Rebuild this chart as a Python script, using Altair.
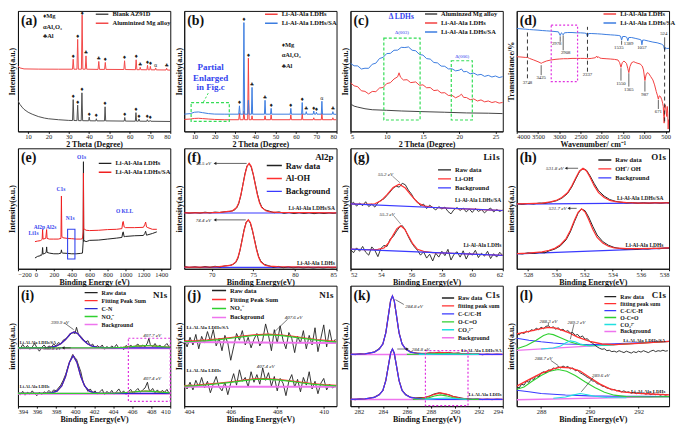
import altair as alt
import pandas as pd

FONT = "Liberation Serif"
W, H = 153, 121
BLK = "#222222"

# ---------------- (a) XRD, blank vs aluminized ----------------
a_blank_x = [5, 5.5, 6, 7, 8, 10, 12, 15, 18, 20, 25, 30, 31.85, 32.2, 32.55, 34.05, 34.4, 34.75,
             36.15, 36.5, 36.85, 39.8, 40.1, 40.4, 43.3, 43.6, 43.9, 47.6, 47.9, 48.2, 57.3, 57.6, 57.9,
             62.8, 63.1, 63.4, 64.3, 64.6, 64.9, 68.4, 68.7, 69.0, 69.8, 70.1, 70.4, 80]
a_blank_y = [32, 29.7, 27.7, 25, 22.7, 19.7, 17.7, 15.3, 13.7, 13, 12, 11.3, 11.2, 32.7, 11.2, 11.1, 27, 11.1,
             11, 39.7, 11, 10.9, 14.7, 10.9, 10.8, 13, 10.8, 10.8, 25.3, 10.8, 10.6, 14.3, 10.6,
             10.5, 19.3, 10.5, 10.5, 12.7, 10.5, 10.4, 12, 10.4, 10.4, 11.3, 10.4, 10.2]
a_alu_x = [5, 6, 8, 15, 25, 31.85, 32.2, 32.55, 34.05, 34.4, 34.75, 36.25, 36.6, 36.95, 38.15, 38.5, 38.85,
           44.45, 44.8, 45.15, 47.65, 48.0, 48.35, 57.15, 57.5, 57.85, 62.85, 63.2, 63.55, 64.9, 65.2, 65.5,
           68.5, 68.8, 69.1, 69.9, 70.2, 70.5, 72.5, 72.8, 73.1, 77.9, 78.2, 78.5, 80]
a_alu_y = [67, 65.3, 64.3, 64.1, 64, 64, 74.3, 64, 64, 94.7, 64, 64, 119.7, 64, 64, 77.7, 64,
           63.8, 72, 63.8, 63.8, 71, 63.8, 63.7, 72.7, 63.7, 63.5, 73.7, 63.5, 63.5, 66, 63.5,
           63.4, 68, 63.4, 63.4, 67, 63.4, 63.3, 65.3, 63.3, 63.2, 65, 63.2, 63]
a_mark_x = [32.2, 34.4, 36.6, 38.5, 44.8, 48.0, 57.5, 63.2, 65.2, 68.8, 70.2, 72.8, 78.2,
            32.2, 34.4, 36.5, 40.1, 43.6, 47.9, 57.6, 63.1, 64.6, 68.7, 70.1]
a_mark_y = [77.8, 98.2, 121.5, 81.2, 75.5, 74.5, 76.2, 77.2, 69.5, 71.5, 70.5, 68.8, 68.5,
            36.2, 30.5, 43.2, 18.2, 16.5, 28.8, 17.8, 22.8, 16.2, 15.5, 14.8]
a_mark_s = ["♦", "♦", "♦", "♣", "♣", "♦", "♦", "♦", "♣", "♦", "♦", "α", "♣",
            "♦", "♦", "♦", "♦", "♦", "♦", "♦", "♦", "♦", "♦", "♦"]

# ---------------- (b) XRD, LDHs vs LDHs/SA ----------------
b_ldh_x = [5, 8, 10, 12, 14, 17, 20, 25, 31.85, 32.2, 32.55, 34.05, 34.4, 34.75, 36.25, 36.6, 36.95,
           38.1, 38.4, 38.7, 44.5, 44.8, 45.1, 47.5, 47.8, 48.1, 57.2, 57.5, 57.8, 62.8, 63.1, 63.4,
           68.5, 68.8, 69.1, 72.5, 72.8, 73.1, 77.9, 78.2, 78.5, 80]
b_ldh_y = [12.3, 12.7, 13.3, 13.5, 13.2, 12.7, 12.3, 12, 12, 18.7, 12, 12, 21, 12, 12, 75.3, 12,
           12, 16, 12, 12, 16, 12, 12, 17, 12, 12, 17, 12, 12, 18, 12,
           12, 14, 12, 12, 18.5, 12, 12, 14, 12, 12]
b_sa_x = [5, 8, 10, 12, 14, 17, 20, 25, 31.85, 32.2, 32.55, 34.05, 34.4, 34.75, 36.25, 36.6, 36.95,
          38.1, 38.4, 38.7, 44.5, 44.8, 45.1, 47.5, 47.8, 48.1, 57.2, 57.5, 57.8, 62.8, 63.1, 63.4,
          64.8, 65.1, 65.4, 68.5, 68.8, 69.1, 69.8, 70.1, 70.4, 72.5, 72.8, 73.1, 77.9, 78.2, 78.5, 80]
b_sa_y = [17.7, 18.3, 19.7, 20, 19.3, 18.3, 17.8, 17.7, 17.7, 26.3, 17.7, 17.7, 112, 17.7, 17.7, 32, 17.7,
          17.7, 45.3, 17.7, 17.7, 32, 17.7, 17.7, 23.7, 17.7, 17.7, 23.7, 17.7, 17.7, 29.7, 17.7,
          17.7, 20.3, 17.7, 17.7, 21, 17.7, 17.7, 19.7, 17.7, 17.7, 31, 17.7, 17.7, 20.3, 17.7, 17.5]
b_mark_x = [32.2, 34.4, 36.6, 38.4, 44.8, 47.8, 57.5, 63.1, 65.1, 68.8, 70.1, 72.8, 78.2]
b_mark_y = [29.8, 115.5, 78.8, 48.8, 35.5, 27.2, 27.2, 33.2, 23.8, 24.5, 23.2, 34.5, 23.8]
b_mark_s = ["♦", "♦", "♦", "♣", "♣", "♦", "♦", "♦", "♣", "♦", "♦", "α", "♣"]

# ---------------- (c) low-angle XRD ----------------
c_alu_x = [5, 5.5, 6, 7, 8, 10, 12, 15, 18, 21, 24, 26]
c_alu_y = [28.3, 26, 25, 23.3, 22.3, 21.7, 21, 20.3, 19.7, 19, 18.7, 18.3]
c_ldh_x = [5, 5.5, 6, 6.5, 7, 7.5, 8, 8.5, 9, 9.5, 10, 10.5, 11, 11.5, 11.7, 11.9, 12.3, 12.8, 13.3, 14,
           14.5, 15, 15.5, 16, 16.5, 17, 17.5, 18, 18.5, 19, 19.5, 20, 20.3, 20.6, 21, 21.5, 22, 22.5, 23, 23.5,
           24, 24.5, 25, 25.5, 26]
c_ldh_y = [50.1, 46.9, 46.0, 41.8, 41.2, 38.6, 41.1, 40.9, 44.6, 45.2, 49.2, 50.1, 53.9, 56.2, 60.3, 55.8, 52.9,
           53.2, 50.2, 50.9, 47.5, 47.9, 44.9, 45.1, 42.0, 42.5, 39.6, 39.8, 37.0, 37.1, 34.6, 36.4, 38.3, 35.0,
           34.8, 32.6, 33.4, 31.3, 32.4, 30.4, 31.3, 29.7, 30.6, 29.1, 29.8]
c_sa_x = [5, 5.5, 6, 6.5, 7, 7.5, 8, 8.5, 9, 9.5, 10, 10.5, 11, 11.5, 12, 12.5, 13, 13.5, 14, 14.5,
          15, 15.5, 16, 16.5, 17, 17.5, 18, 18.5, 19, 19.5, 20, 20.3, 20.6, 21, 21.5, 22, 22.5, 23, 23.5, 24,
          24.5, 25, 25.5, 26]
c_sa_y = [70.1, 67.5, 67.4, 64.2, 65.0, 64.9, 69.1, 70.2, 75.0, 76.2, 80.1, 80.3, 83.5, 83.6, 86.5, 86.3, 86.9,
          83.5, 83.0, 79.2, 78.5, 74.9, 74.4, 70.9, 70.5, 67.2, 67.0, 64.3, 64.4, 62.3, 63.0, 64.3, 61.3, 61.7,
          59.3, 60.0, 58.0, 58.7, 56.6, 57.7, 56.0, 57.0, 55.4, 56.4]

# ---------------- (d) FTIR ----------------
d_sa_x = [4000, 3900, 3800, 3700, 3600, 3500, 3400, 3300, 3200, 3100, 3020, 2978, 2950, 2930, 2908, 2880,
          2800, 2700, 2600, 2500, 2400, 2360, 2337, 2315, 2250, 2100, 2000, 1900, 1800, 1700, 1600, 1560,
          1535, 1510, 1450, 1410, 1389, 1365, 1300, 1200, 1100, 1075, 1057, 1040, 1000, 900, 800, 700, 600,
          550, 524, 500, 470, 440, 420]
d_sa_y = [103.3, 103, 102.7, 102.3, 102, 101.7, 101.3, 101, 100.7, 100.3, 100, 96.3, 99, 98.3, 97, 99,
          99.3, 99.3, 99, 99, 98.7, 98.3, 95, 98.3, 98.3, 98, 97.7, 97.3, 97, 96.7, 96.3, 95.7,
          91.7, 95.3, 95.3, 94.3, 91, 94.3, 94.3, 93.3, 92.3, 91.7, 87, 91.7, 91.7, 90.7, 89.7, 89, 87.7,
          86.3, 81.7, 84.3, 83, 83.7, 82.7]
d_ldh_x = [4000, 3900, 3800, 3748, 3700, 3600, 3500, 3450, 3425, 3400, 3300, 3200, 3100, 3000, 2900, 2800,
           2700, 2600, 2500, 2400, 2337, 2250, 2150, 2120, 2100, 2080, 2050, 2000, 1900, 1800, 1700, 1620,
           1580, 1550, 1520, 1480, 1420, 1390, 1365, 1340, 1300, 1250, 1200, 1150, 1100, 1050, 1020, 987,
           960, 930, 900, 850, 800, 760, 720, 690, 671, 650, 620, 590, 570, 555, 545, 535, 520, 505, 490,
           475, 460, 450, 440, 430, 420]
d_ldh_y = [75, 74.7, 74.3, 74.3, 73.3, 71.7, 70, 69, 68.3, 69, 70.7, 71.7, 72.3, 72.7, 73, 73,
           73.3, 73.3, 73.3, 73.3, 73, 73.3, 74, 75.7, 74, 75, 73.7, 73.3, 73, 72.7, 72.3, 71.7,
           69, 64.3, 69, 70.7, 68.3, 63.3, 59, 65, 69, 70, 69, 68.3, 67.7, 65.7, 61.7, 51,
           56.7, 59, 58.3, 55, 51.7, 46.7, 40, 35.7, 32.3, 35.7, 35, 31.7, 28.3, 25, 15, 8.3, 23.3, 26.7, 21.7,
           15, 25, 18.3, 2.3, 11.7, 6.7]

# ---------------- (e) XPS survey ----------------
e_ldh_x = [-10, 20, 50, 55, 60, 65, 70, 75, 80, 100, 115, 120, 125, 150, 200, 250, 280, 285, 290, 300,
           350, 400, 450, 500, 520, 528, 531, 534, 540, 560, 580, 600, 700, 800, 900, 960, 970, 975, 985, 1000,
           1100, 1200, 1215, 1225, 1235, 1250, 1300, 1350]
e_ldh_y = [11, 12.7, 13.3, 14.3, 13.7, 14, 15, 21.7, 15, 15.7, 16.7, 22.3, 16.7, 16, 15.3, 15.3, 16, 19.3, 16.7, 16,
           15.7, 15.3, 15.3, 15.7, 16, 27.7, 109.3, 27.7, 28.7, 27.7, 28.3, 29, 29.3, 30.3, 31.3, 32, 37, 37.7, 32.7, 33,
           33.7, 34, 36, 38.3, 34.3, 34.7, 36, 37.7]
e_sa_x = [-10, 20, 50, 60, 70, 75, 80, 110, 120, 125, 150, 200, 250, 280, 285, 290, 300, 350, 400, 450,
          500, 520, 528, 531, 534, 545, 560, 600, 700, 800, 900, 960, 970, 975, 985, 1000, 1100, 1200, 1215, 1225,
          1235, 1250, 1300, 1350]
e_sa_y = [27.7, 28.3, 28.7, 29.3, 30, 40.3, 30.3, 31, 40, 31, 30.3, 30.3, 30.3, 31, 74.3, 33.3, 31.7, 31, 30.7, 30.3,
          30.3, 30.7, 37.7, 97.7, 40.3, 40.3, 39.3, 39, 39.3, 40, 40.3, 41, 47.7, 48.3, 42.7, 42, 42, 42.3, 45, 47.7,
          42.7, 42, 40.3, 40.3]

# ---------------- (f) Al2p ----------------
f_fit_up_x = [66.7, 68, 70, 71, 72, 72.5, 73, 73.25, 73.5, 73.75, 74, 74.25, 74.5, 74.75, 75, 75.25, 75.5, 75.75,
              76, 76.5, 77, 78, 80, 82, 85]
f_fit_up_y = [56.7, 56.7, 56.8, 57.2, 58.2, 58.7, 62.2, 66.7, 74.7, 84.7, 95.7, 103.7, 106.7, 103.7, 95.7, 84.7,
              74.7, 66.7, 62.2, 58.7, 57.7, 57.2, 56.9, 56.8, 56.7]
f_raw_up_x = [66.7, 67.3, 68, 68.6, 69.2, 69.8, 70.4, 71, 71.6, 72.2, 72.7, 73, 73.25, 73.5, 73.75, 74, 74.25, 74.5,
              74.75, 75, 75.25, 75.5, 75.75, 76, 76.4, 76.9, 77.5, 78.1, 78.7, 79.3, 79.9, 80.5, 81.1, 81.7, 82.3,
              82.9, 83.5, 84.1, 84.6, 85]
f_raw_up_y = [57.2, 56.3, 57.0, 56.4, 57.3, 56.6, 57.4, 57.0, 57.8, 58.0, 59.3, 61.6, 66.0, 74.0, 85.3, 96.4, 104.2,
              106.3, 103.0, 95.2, 85.5, 75.5, 67.7, 62.9, 59.6, 58.4, 56.8, 57.6, 56.2, 57.1, 55.9, 56.9, 56.0, 56.8,
              55.8, 56.6, 55.9, 56.7, 56.1, 56.6]
f_fit_lo_x = [66.7, 68, 70, 70.9, 71.9, 72.4, 72.9, 73.15, 73.4, 73.65, 73.9, 74.15, 74.4, 74.65, 74.9, 75.15,
              75.4, 75.65, 75.9, 76.4, 76.9, 77.9, 80, 82, 85]
f_fit_lo_y = [1.7, 1.7, 1.8, 2.2, 3.1, 3.6, 7.0, 11.3, 19.0, 28.6, 39.1, 46.8, 49.7, 46.8, 39.1, 28.6, 19.0, 11.3,
              7.0, 3.6, 2.7, 2.2, 1.9, 1.8, 1.7]
f_raw_lo_x = [66.7, 67.3, 68, 68.6, 69.2, 69.8, 70.4, 71, 71.6, 72.2, 72.6, 72.9, 73.15, 73.4, 73.65, 73.9, 74.15,
              74.4, 74.65, 74.9, 75.15, 75.4, 75.65, 75.9, 76.3, 76.8, 77.4, 78, 78.6, 79.2, 79.8, 80.4, 81, 81.6,
              82.2, 82.8, 83.4, 84, 84.5, 85]
f_raw_lo_y = [2.4, 1.2, 2.0, 1.1, 2.3, 1.4, 2.5, 1.8, 2.9, 3.4, 4.6, 6.4, 10.6, 18.4, 29.3, 39.8, 47.3, 49.3, 46.0,
              38.4, 29.5, 19.8, 12.2, 7.8, 4.5, 3.2, 1.6, 2.4, 1.0, 2.0, 0.9, 1.8, 0.8, 1.6, 0.7, 1.5, 0.8, 1.5,
              0.9, 1.4]
f_bg_x = [66.7, 85]
f_bg_up_y = [56.5, 56.5]
f_bg_lo_y = [1.5, 1.5]

# ---------------- (g) Li1s ----------------
g_fit_up_x = [52, 53, 53.6, 54, 54.4, 54.8, 55.2, 55.6, 56, 56.4, 56.8, 57.4, 58, 59, 60, 61, 62]
g_fit_up_y = [66.7, 66.2, 66.9, 69.9, 76.3, 83.6, 87.0, 83.1, 75.2, 68.3, 64.8, 63.3, 62.7, 62.0, 61.4, 60.7, 60.0]
g_raw_x = [52.0, 52.2, 52.4, 52.6, 52.8, 53.0, 53.2, 53.4, 53.6, 53.8, 54.0, 54.2, 54.4, 54.6, 54.8, 55.0, 55.2,
           55.4, 55.6, 55.8, 56.0, 56.2, 56.4, 56.6, 56.8, 57.0, 57.2, 57.4, 57.6, 57.8, 58.0, 58.2, 58.4, 58.6,
           58.8, 59.0, 59.2, 59.4, 59.6, 59.8, 60.0, 60.2, 60.4, 60.6, 60.8, 61.0, 61.2, 61.4, 61.6, 61.8, 62.0]
g_raw_up_y = [66, 68.5, 64.5, 67.5, 65, 69, 64, 66.5, 63.5, 68, 70.5, 72, 75.5, 79, 83, 85, 84, 88, 86.5, 81,
              77, 71.5, 69, 65, 66.5, 62, 65.5, 63, 60.5, 64, 61.5, 63.5, 59, 56.5, 61, 63, 60, 62.5, 58.5, 61.5,
              58, 62, 59, 61, 57.5, 60.5, 62.5, 58.5, 61, 59, 60.5]
g_fit_lo_x = [52, 53, 53.8, 54.2, 54.5, 54.8, 55.05, 55.3, 55.55, 55.8, 56.1, 56.4, 56.8, 57.4, 58, 59, 60, 61, 62]
g_fit_lo_y = [20.3, 19.6, 19.9, 21.4, 26.5, 34.6, 41.4, 44.3, 41.0, 34.0, 25.5, 20.0, 17.9, 16.7, 16.3, 15.7, 15.0,
              14.4, 13.7]
g_raw_lo_y = [20, 16.5, 21.5, 18, 23, 17, 14, 22.5, 19, 12.5, 21, 24, 23, 30.5, 33, 38, 42.5, 44.5, 40, 33,
              27, 22.5, 19, 14, 17.5, 11, 15, 8, 16, 12, 18, 13.5, 20, 9, 15, 17.5, 12, 18.5, 10, 16.5,
              14, 19, 11.5, 16, 13, 18, 10.5, 15.5, 12, 17, 13.5]
g_bg_x = [52, 62]
g_bg_up_y = [66.7, 60.0]
g_bg_lo_y = [20.3, 13.7]

# ---------------- (h) O1s ----------------
h_fit_up_x = [527.2, 528, 529, 529.6, 530, 530.4, 530.8, 531.1, 531.4, 531.65, 531.9, 532.15, 532.4, 532.7, 533,
              533.4, 533.8, 534.2, 535, 536, 537, 538]
h_fit_up_y = [67.3, 67.6, 68.2, 69.5, 70.9, 73.9, 78.9, 85.9, 94.8, 101.5, 104.4, 101.5, 94.9, 86.0, 79.0, 74.0,
              71.0, 69.6, 68.6, 68.2, 68.3, 68.4]
h_raw_up_x = [527.2, 527.6, 528, 528.4, 528.8, 529.2, 529.6, 530, 530.4, 530.8, 531.1, 531.4, 531.65, 531.9, 532.15,
              532.4, 532.7, 533, 533.4, 533.8, 534.2, 534.6, 535, 535.4, 535.8, 536.2, 536.6, 537, 537.4, 537.8, 538]
h_raw_up_y = [67.6, 67.0, 67.8, 67.3, 68.2, 68.0, 69.2, 70.5, 73.2, 78.0, 84.8, 93.6, 100.7, 104.0, 102.2, 96.4,
              88.2, 81.0, 75.4, 71.8, 70.0, 69.0, 68.4, 68.7, 68.0, 68.5, 67.9, 68.6, 68.0, 68.7, 68.3]
h_fit_lo_x = [527.2, 528, 529, 529.5, 529.9, 530.3, 530.7, 531.0, 531.3, 531.55, 531.8, 532.05, 532.3, 532.6, 532.9,
              533.3, 533.7, 534.1, 535, 536, 537, 538]
h_fit_lo_y = [15.7, 16.3, 17.6, 19.2, 21.2, 24.9, 31.3, 39.8, 50.6, 58.6, 62.3, 58.9, 51.1, 40.7, 32.5, 26.6, 23.3,
              21.7, 20.9, 20.8, 21.1, 21.7]
h_raw_lo_x = [527.2, 527.6, 528, 528.4, 528.8, 529.2, 529.5, 529.9, 530.3, 530.7, 531.0, 531.3, 531.55, 531.8, 532.05,
              532.3, 532.6, 532.9, 533.3, 533.7, 534.1, 534.5, 534.9, 535.3, 535.7, 536.1, 536.5, 536.9, 537.3,
              537.7, 538]
h_raw_lo_y = [16.0, 15.4, 16.5, 15.9, 16.9, 16.6, 18.6, 20.4, 23.8, 30.0, 38.2, 49.2, 57.6, 62.0, 60.2, 53.6, 43.8,
              35.0, 28.2, 24.4, 22.2, 21.0, 20.4, 20.8, 20.2, 20.9, 20.5, 21.3, 20.8, 21.5, 21.4]
h_bg_x = [527.2, 538]
h_bg_up_y = [67.0, 68.3]
h_bg_lo_y = [15.5, 21.5]

# ---------------- (i) N1s ----------------
i_raw_x = [394.0, 394.25, 394.5, 394.75, 395.0, 395.25, 395.5, 395.75, 396.0, 396.25, 396.5, 396.75, 397.0, 397.25,
           397.5, 397.75, 398.0, 398.25, 398.5, 398.75, 399.0, 399.25, 399.5, 399.75, 400.0, 400.15, 400.35, 400.6,
           400.85, 401.1, 401.35, 401.6, 401.85, 402.1, 402.35, 402.6, 402.85, 403.1, 403.35, 403.6, 403.85, 404.1,
           404.35, 404.6, 404.85, 405.1, 405.35, 405.6, 405.85, 406.1, 406.35, 406.6, 406.85, 407.1, 407.35, 407.6,
           407.75, 407.9, 408.15, 408.4, 408.65, 408.9, 409.15, 409.4, 409.65, 409.9, 410.0]
i_raw_up_y = [62, 60, 64.5, 61, 63.5, 59.5, 62, 65.5, 61, 57.5, 61.5, 64, 60.5, 63, 61.5, 65, 63, 66.5, 65, 69,
              70.5, 72, 75, 77, 76, 82.5, 75, 73, 70, 67, 68.5, 63, 65, 60, 63.5, 61, 64, 59.5, 62.5, 60,
              63, 61, 64.5, 60.5, 62, 59, 63.5, 61.5, 64, 60.5, 63, 65, 61.5, 64, 62, 66, 71, 64.5, 62, 65.5,
              61.5, 64, 60.5, 63, 65.5, 61.5, 62.5]
i_raw_lo_y = [14, 12, 15.5, 11.5, 14.5, 12.5, 16, 13, 11, 14.5, 12, 15, 13.5, 16.5, 14, 17, 16, 19, 22, 27,
              33, 41, 48, 54, 50.5, 49, 43, 36, 25, 20, 15.5, 18, 13.5, 16, 12.5, 15, 17.5, 12, 15.5, 13,
              16.5, 12.5, 15, 18, 13.5, 16, 12, 15.5, 17.5, 13, 16, 18.5, 14.5, 17, 19, 25, 18, 15.5, 18.5, 14,
              17, 13.5, 16.5, 14.5, 17.5, 13, 15]
i_cn_up_x = [394, 396, 397, 397.5, 398, 398.5, 399, 399.5, 399.9, 400.3, 400.8, 401.3, 401.8, 402.3, 403, 404,
             406, 408, 410]
i_cn_up_y = [61, 61, 61.2, 61.7, 62.7, 65.2, 69.7, 75.7, 77.7, 75.7, 69.7, 65.2, 62.7, 61.7, 61.2, 61, 61, 61, 61]
i_no3_x = [394, 403, 404, 405, 406, 406.5, 407, 407.5, 408, 408.5, 409, 410]
i_no3_up_y = [61, 61, 61.1, 61.5, 62.2, 62.7, 63.1, 63.3, 63.2, 62.8, 62.3, 61.6]
i_sum_up_x = [394, 396, 397, 397.5, 398, 398.5, 399, 399.5, 399.9, 400.3, 400.8, 401.3, 401.8, 402.3, 403, 404,
              405, 406, 406.5, 407, 407.5, 408, 408.5, 409, 410]
i_sum_up_y = [61, 61, 61.2, 61.7, 62.7, 65.2, 69.7, 75.7, 77.7, 75.7, 69.7, 65.2, 62.7, 61.7, 61.2, 61.1, 61.5,
              62.2, 62.7, 63.1, 63.3, 63.2, 62.8, 62.3, 61.6]
i_cn_lo_x = [394, 396, 397, 397.6, 398.1, 398.6, 399.0, 399.4, 399.8, 400.2, 400.6, 401.0, 401.5, 402.0, 402.6,
             403.5, 405, 407, 410]
i_cn_lo_y = [13.3, 13.3, 13.5, 14.1, 15.7, 21.2, 31.0, 45.6, 52.7, 45.6, 31.0, 21.2, 15.7, 14.1, 13.5, 13.3, 13.3,
             13.3, 13.3]
i_no3_lo_x = [394, 403, 404, 405, 406, 406.5, 407, 407.4, 408, 408.5, 409, 410]
i_no3_lo_y = [13.3, 13.3, 13.5, 14, 14.8, 15.2, 15.6, 15.7, 15.5, 15.1, 14.6, 13.9]
i_sum_lo_x = [394, 396, 397, 397.6, 398.1, 398.6, 399.0, 399.4, 399.8, 400.2, 400.6, 401.0, 401.5, 402.0, 402.6,
              403.5, 404, 405, 406, 406.5, 407, 407.4, 408, 408.5, 409, 410]
i_sum_lo_y = [13.3, 13.3, 13.5, 14.1, 15.7, 21.2, 31.0, 45.6, 52.7, 45.6, 31.0, 21.2, 15.7, 14.1, 13.5, 13.4, 13.5,
              14, 14.8, 15.2, 15.6, 15.7, 15.5, 15.1, 14.6, 13.9]
i_bg_x = [394, 410]
i_bg_up_y = [60.6, 60.6]
i_bg_lo_y = [13.0, 13.0]

# ---------------- (j) N1s zoom ----------------
j_raw_x = [404.0, 404.125, 404.25, 404.375, 404.5, 404.625, 404.75, 404.875, 405.0, 405.125, 405.25, 405.375, 405.5,
           405.625, 405.75, 405.875, 406.0, 406.125, 406.25, 406.375, 406.5, 406.625, 406.75, 406.875, 407.0,
           407.125, 407.25, 407.375, 407.5, 407.625, 407.75, 407.875, 408.0, 408.125, 408.25, 408.375, 408.5,
           408.625, 408.75, 408.875, 409.0, 409.125, 409.25, 409.375, 409.5, 409.625, 409.75, 409.875, 410.0,
           410.125, 410.25, 410.375, 410.5]
j_raw_up_y = [70, 62, 72, 64, 75, 60, 73, 66, 78, 68, 80, 63, 71, 58, 74, 66, 48, 62, 76, 69,
              79, 64, 72, 61, 70, 76, 63, 69, 86, 74, 58, 80, 66, 84, 69, 60, 77, 71, 56, 73,
              66, 79, 60, 74, 64, 82, 57, 71, 85, 62, 80, 65, 70]
j_raw_lo_y = [22, 18, 25, 17, 27, 20, 30, 19, 26, 14, 23, 31, 20, 16, 25, 12, 24, 34, 22, 38,
              26, 30, 20, 36, 25, 33, 23, 40, 27, 35, 21, 31, 16, 29, 24, 11, 26, 33, 20, 28,
              15, 30, 22, 36, 18, 26, 13, 24, 29, 17, 23, 19, 21]
j_up_x = [404, 404.5, 405, 405.5, 406, 406.5, 407, 407.6, 408.2, 408.7, 409.2, 409.7, 410.2, 410.55]
j_no3_up_y = [67.5, 67.9, 68.6, 69.6, 71.0, 72.5, 73.9, 74.6, 73.7, 72.2, 70.6, 69.0, 67.8, 67.2]
j_sum_up_y = [68.2, 68.6, 69.3, 70.3, 71.7, 73.2, 74.6, 75.3, 74.4, 72.9, 71.3, 69.7, 68.5, 67.9]
j_lo_x = [404, 404.5, 405, 405.5, 406, 406.5, 407, 407.4, 408, 408.5, 409, 409.5, 410, 410.55]
j_no3_lo_y = [20.9, 21.5, 22.4, 23.5, 24.9, 26.5, 27.9, 28.3, 27.5, 26.1, 24.5, 23.1, 22.0, 21.2]
j_sum_lo_y = [21.5, 22.1, 23.0, 24.1, 25.5, 27.1, 28.5, 28.9, 28.1, 26.7, 25.1, 23.7, 22.6, 21.8]
j_bg_x = [404, 410.55]
j_bg_up_y = [67, 66]
j_bg_lo_y = [20.3, 20.3]

# ---------------- (k) C1s ----------------
k_cc_x = [281.3, 282.5, 283.3, 283.7, 284.0, 284.25, 284.5, 284.65, 284.8, 284.95, 285.1, 285.35, 285.6, 285.9,
          286.3, 286.8, 287.5, 289, 291, 294]
k_cc_up_y = [53.7, 54.3, 56.1, 59.2, 64.6, 76.1, 97.3, 109.5, 114.3, 109.5, 97.3, 76.1, 64.6, 59.2, 56.1, 54.9, 54.3,
             53.7, 53.7, 53.7]
k_cc_lo_y = [7, 7.5, 9.1, 11.7, 16.4, 26.4, 44.7, 55.1, 59.3, 55.1, 44.7, 26.4, 16.4, 11.7, 9.1, 8, 7.5, 7, 7, 7]
k_sum_up_x = [281.3, 282.5, 283.3, 283.7, 284.0, 284.25, 284.5, 284.65, 284.8, 284.95, 285.1, 285.35, 285.6, 285.9,
              286.3, 286.8, 287.5, 288, 288.8, 289.5, 290.5, 292, 294]
k_sum_up_y = [53.7, 54.3, 56.1, 59.2, 64.6, 76.1, 97.3, 109.5, 114.3, 109.5, 97.3, 76.1, 64.6, 59.2, 56.1, 55.0,
              54.7, 55.1, 55.6, 55.3, 54.6, 53.9, 53.7]
k_oco_up_x = [286, 287, 288, 288.8, 289.5, 290.5, 292]
k_oco_up_y = [53.7, 53.9, 54.4, 54.7, 54.5, 54, 53.7]
k_co3_up_x = [287, 288.5, 289.5, 290.5, 292]
k_co3_up_y = [53.7, 53.9, 54.1, 53.9, 53.7]
k_raw_x = [281.3, 281.7, 282.1, 282.5, 282.9, 283.3, 283.7, 284.0, 284.25, 284.5, 284.65, 284.8, 284.95, 285.1,
           285.35, 285.6, 285.9, 286.3, 286.7, 287.1, 287.5, 287.9, 288.3, 288.7, 289.1, 289.5, 289.9, 290.3,
           290.7, 291.1, 291.5, 291.9, 292.3, 292.7, 293.1, 293.5, 294]
k_raw_up_y = [54.2, 53.4, 54.6, 53.9, 55.1, 56.4, 59.8, 64.2, 76.8, 97.0, 110.1, 114.0, 109.0, 96.6, 76.5, 64.9,
              59.6, 56.6, 55.2, 54.8, 54.3, 55.4, 55.0, 56.1, 55.2, 55.8, 54.6, 55.3, 54.1, 54.8, 53.6, 54.4,
              53.3, 54.1, 53.5, 54.0, 53.6]
k_raw_lo_y = [7.4, 6.6, 7.7, 7.1, 8.3, 9.5, 12.2, 16.0, 27.2, 44.5, 55.6, 59.0, 54.6, 44.0, 26.9, 16.9, 12.3, 9.4,
              8.6, 8.9, 8.9, 10.6, 12.8, 13.9, 12.6, 11.9, 10.0, 9.1, 8.0, 7.8, 7.2, 7.6, 6.8, 7.4, 6.7, 7.3, 6.9]
k_oco_lo_x = [286.5, 287.2, 287.8, 288.3, 288.8, 289.3, 289.8, 290.4, 291.2, 292]
k_oco_lo_y = [7, 7.4, 8.6, 10.6, 11.7, 10.7, 8.9, 7.7, 7.1, 7]
k_co3_lo_x = [287.5, 288.5, 289.3, 290, 291]
k_co3_lo_y = [7, 7.9, 8.5, 7.9, 7.1]
k_sum_lo_x = [281.3, 282.5, 283.3, 283.7, 284.0, 284.25, 284.5, 284.65, 284.8, 284.95, 285.1, 285.35, 285.6, 285.9,
              286.3, 286.8, 287.2, 287.8, 288.3, 288.8, 289.3, 289.8, 290.4, 291.2, 292, 294]
k_sum_lo_y = [7, 7.5, 9.1, 11.7, 16.4, 26.4, 44.7, 55.1, 59.3, 55.1, 44.7, 26.4, 16.4, 11.7, 9.1, 8.2, 8.2, 9.8,
              12.3, 13.8, 12.6, 10.2, 8.3, 7.3, 7.0, 7.0]
k_bg_x = [281.3, 294]
k_bg_up_y = [53.5, 53.5]
k_bg_lo_y = [6.8, 6.8]

# ---------------- (l) C1s zoom ----------------
l_bg_x = [287, 293.25]
l_bg_up_y = [58.3, 67.7]
l_bg_lo_y = [6.7, 10.0]
l_cc_up_x = [287, 287.5, 288, 288.5, 289, 289.5, 290, 290.5, 291, 292, 293.25]
l_cc_up_y = [71, 69, 67.3, 66, 65, 64.7, 64.3, 64.7, 65.3, 66.3, 67.7]
l_oco_up_x = [287, 287.4, 287.8, 288.1, 288.3, 288.5, 288.8, 289.2, 289.6, 290, 290.5, 291, 292, 293.25]
l_oco_up_y = [60, 63.5, 69, 73.8, 75.7, 74.8, 71.5, 67, 64.2, 63.3, 63.6, 64.3, 65.8, 67.7]
l_co3_up_x = [288, 288.5, 288.8, 289.0, 289.2, 289.4, 289.6, 289.9, 290.3, 291]
l_co3_up_y = [59.8, 60.8, 62.8, 66, 68.3, 67.3, 65, 63.2, 63.4, 64.3]
l_sum_up_x = [287, 287.5, 288, 288.3, 288.6, 289, 289.2, 289.5, 290, 290.5, 291, 292, 293.25]
l_sum_up_y = [75.7, 78.3, 81, 82.3, 81.7, 78.3, 76, 72.3, 67.7, 65, 64.3, 65.7, 67.7]
l_raw_x = [287.0, 287.1, 287.2, 287.3, 287.4, 287.5, 287.6, 287.7, 287.8, 287.9, 288.0, 288.1, 288.2, 288.3, 288.4,
           288.5, 288.6, 288.7, 288.8, 288.9, 289.0, 289.1, 289.2, 289.3, 289.4, 289.5, 289.6, 289.7, 289.8, 289.9,
           290.0, 290.1, 290.2, 290.3, 290.4, 290.5, 290.6, 290.7, 290.8, 290.9, 291.0, 291.1, 291.2, 291.3, 291.4,
           291.5, 291.6, 291.7, 291.8, 291.9, 292.0, 292.1, 292.2, 292.3, 292.4, 292.5, 292.6, 292.7, 292.8, 292.9,
           293.0, 293.1, 293.2]
l_raw_up_y = [76, 74.5, 77, 76, 78.5, 77.5, 80, 79, 81.5, 80, 82.5, 81, 83.5, 84, 82, 83, 80.5, 82, 79.5, 80.5,
              78, 79, 76.5, 77, 74, 75, 72, 73.5, 70, 70.5, 67.5, 66, 64, 62, 60.5, 59.5, 60, 58, 58.5, 57,
              57.5, 56.5, 58, 57, 56, 57.5, 56.5, 55.5, 57, 56, 57.5, 56.5, 58, 57, 56, 57.5, 58.5, 57, 58, 57.5,
              58.5, 57.5, 58]
l_raw_lo_y = [21, 19, 23, 22, 26, 25, 29, 28, 32, 31, 34.5, 36, 35, 38, 37, 40, 39, 41.5, 40, 42,
              40.5, 41.5, 39, 40, 37, 37.5, 35, 33.5, 32, 30, 29, 26.5, 26, 23.5, 23, 21, 20.5, 19, 18.5, 17,
              17.5, 16, 16.5, 15, 16, 14.5, 15, 13.5, 14.5, 13, 14, 13, 13.5, 12.5, 13.5, 12, 13, 12, 12.5, 11.5,
              12.5, 11.5, 12]
l_cc_lo_x = [287, 287.5, 288, 289, 290, 291, 292, 293.25]
l_cc_lo_y = [16.7, 15, 13.3, 11.7, 10.7, 10.3, 10.3, 10]
l_oco_lo_x = [287, 287.3, 287.6, 288, 288.35, 288.7, 289.05, 289.4, 289.8, 290.2, 290.6, 291, 291.5, 292.5, 293.25]
l_oco_lo_y = [17.7, 20, 25.5, 32, 36.5, 38.3, 36.5, 32, 25.5, 19.5, 14.5, 11.5, 10, 9.5, 10]
l_co3_lo_x = [288.5, 289, 289.3, 289.6, 289.9, 290.2, 290.7, 291.5]
l_co3_lo_y = [8.3, 9.5, 11.5, 13.3, 12, 10.3, 9, 8.8]
l_sum_lo_x = [287, 287.5, 288, 288.5, 288.8, 289.2, 289.6, 290, 290.4, 290.8, 291.3, 292, 292.5, 293.25]
l_sum_lo_y = [21, 27.7, 34.3, 39, 40.7, 40, 36.7, 30, 23.3, 18.3, 15, 13.3, 12.7, 11.7]

# ---------------- colours ----------------
RED = "#ff3030"
XBLUE = "#3c7de0"
BGBLUE = "#3a3aff"
GREEN = "#30d030"
MAG = "#ee74ee"
CYAN = "#20e0e0"
LBLUE = "#3344ee"


def build(p):
    X = alt.X("x:Q", scale=alt.Scale(domain=p["xdom"], nice=False, zero=False),
              axis=alt.Axis(values=p["xticks"], title=p["xtitle"], format="d"))
    Y = alt.Y("y:Q", scale=alt.Scale(domain=[0, p["ytop"]], nice=False, zero=False),
              axis=alt.Axis(labels=False, ticks=False, title=p["ytitle"], titlePadding=1))
    lx, ly, lfs, pitch, lss = p["legend"]
    C = alt.Color("s:N", scale=alt.Scale(domain=p["names"], range=p["colors"]),
                  legend=alt.Legend(orient="none", legendX=lx, legendY=ly, title=None,
                                    symbolType="stroke", symbolSize=lss, symbolStrokeWidth=1.4,
                                    labelFontSize=lfs, rowPadding=0, clipHeight=pitch, padding=0,
                                    labelOffset=3, labelLimit=400))
    layers = []
    for name, parts, width in p["lines"]:
        rows = []
        for gi, (xv, yv) in enumerate(parts):
            assert len(xv) == len(yv), (p["letter"], name, gi, len(xv), len(yv))
            rows += [{"x": a, "y": b, "s": name, "g": gi} for a, b in zip(xv, yv)]
        layers.append(alt.Chart(pd.DataFrame(rows)).mark_line(strokeWidth=width, clip=True)
                      .encode(x=X, y=Y, color=C, detail="g:N"))
    for (x1, x2, y1, y2, col, dash, sw) in p.get("rects", []):
        df = pd.DataFrame([{"x": x1, "x2": x2, "y": y1, "y2": y2}])
        kw = dict(fillOpacity=0, stroke=col, strokeWidth=sw)
        if dash:
            kw["strokeDash"] = dash
        layers.append(alt.Chart(df).mark_rect(**kw).encode(x=X, x2="x2:Q", y=Y, y2="y2:Q"))
    for (segs, col, dash, sw) in p.get("rules", []):
        df = pd.DataFrame([{"x": a, "y": b, "x2": c, "y2": d} for a, b, c, d in segs])
        kw = dict(color=col, strokeWidth=sw)
        if dash:
            kw["strokeDash"] = dash
        layers.append(alt.Chart(df).mark_rule(**kw).encode(x=X, y=Y, x2="x2:Q", y2="y2:Q"))
    for (pts, shape, col) in p.get("heads", []):
        df = pd.DataFrame([{"x": a, "y": b} for a, b in pts])
        layers.append(alt.Chart(df).mark_point(shape=shape, filled=True, size=10, color=col, opacity=1)
                      .encode(x=X, y=Y))
    for rows, style in p.get("texts", []):
        df = pd.DataFrame([{"x": a, "y": b, "t": c} for a, b, c in rows])
        st = dict(font=FONT, fontWeight="bold", color=BLK, fontSize=5.5, align="center", baseline="middle")
        st.update(style)
        layers.append(alt.Chart(df).mark_text(**st).encode(x=X, y=Y, text="t:N"))
    layers.append(alt.Chart(pd.DataFrame({"t": [p["letter"]]}))
                  .mark_text(font=FONT, fontWeight="bold", fontSize=14, align="left", baseline="middle", color="#111")
                  .encode(x=alt.value(3), y=alt.value(10), text="t:N"))
    if p.get("tag"):
        layers.append(alt.Chart(pd.DataFrame({"t": [p["tag"]]}))
                      .mark_text(font=FONT, fontWeight="bold", fontSize=9, align="right", baseline="middle", color="#111")
                      .encode(x=alt.value(W - 3), y=alt.value(9), text="t:N"))
    return alt.layer(*layers).properties(width=W, height=H)


XRD_T = "2 Theta (Degree)"
BE_T = "Binding Energy(eV)"
XPS_NAMES = ["Raw data", "fitting peak sum", "C-C/C-H", "O-C=O", "CO₃²⁻", "Background"]
XPS_COLS = [BLK, RED, BGBLUE, GREEN, CYAN, MAG]
MARK_STYLE = dict(fontSize=5, fontWeight="normal", font="DejaVu Sans")

panels = []

# (a)
panels.append(build(dict(
    letter="(a)", xdom=[5, 80], ytop=124, xticks=[10, 20, 30, 40, 50, 60, 70, 80], xtitle=XRD_T,
    ytitle="Intensity(a.u.)",
    names=["Blank AZ91D", "Aluminized Mg alloy"], colors=["#505050", "#f24a4a"],
    legend=(77, -1, 6.5, 8.7, 160),
    lines=[("Blank AZ91D", [(a_blank_x, a_blank_y)], 1),
           ("Aluminized Mg alloy", [(a_alu_x, a_alu_y)], 1)],
    texts=[(list(zip(a_mark_x, a_mark_y, a_mark_s)), MARK_STYLE),
           ([(17.3, 118.7, "♦Mg"), (17.3, 107.7, "αAl₂O₃"), (17.3, 97.7, "♣Al")], dict(fontSize=6.5, align="left"))],
)))

# (b)
panels.append(build(dict(
    letter="(b)", xdom=[5, 80], ytop=124, xticks=[10, 20, 30, 40, 50, 60, 70, 80], xtitle=XRD_T,
    ytitle="Intensity(a.u.)",
    names=["Li-Al-Ala LDHs", "Li-Al-Ala LDHs/SA"], colors=["#f24040", XBLUE],
    legend=(80, -1, 6.5, 8.7, 160),
    lines=[("Li-Al-Ala LDHs", [(b_ldh_x, b_ldh_y)], 1),
           ("Li-Al-Ala LDHs/SA", [(b_sa_x, b_sa_y)], 1)],
    rects=[(8.4, 27.2, 10.3, 29.7, "#33dd55", [3, 2], 1.2)],
    rules=[([(14.5, 30.3, 17.0, 40.0)], "#33dd55", [2, 2], 1)],
    texts=[(list(zip(b_mark_x, b_mark_y, b_mark_s)), MARK_STYLE),
           ([(53, 88.7, "♦Mg"), (53, 78.7, "αAl₂O₃"), (53, 67.7, "♣Al")], dict(fontSize=6.5, align="left")),
           ([(18, 66.3, "Partial"), (18, 55.3, "Enlarged"), (18, 45.3, "in Fig.c")],
            dict(fontSize=9, color=LBLUE))],
)))

# (c)
panels.append(build(dict(
    letter="(c)", xdom=[5, 26], ytop=124, xticks=[5, 10, 15, 20, 25], xtitle=XRD_T,
    ytitle="Intensity(a.u.)",
    names=["Aluminzed Mg alloy", "Li-Al-Ala LDHs", "Li-Al-Ala LDHs/SA"], colors=["#444444", "#f24040", XBLUE],
    legend=(74, -1, 6.5, 8.3, 150),
    lines=[("Aluminzed Mg alloy", [(c_alu_x, c_alu_y)], 1),
           ("Li-Al-Ala LDHs", [(c_ldh_x, c_ldh_y)], 1),
           ("Li-Al-Ala LDHs/SA", [(c_sa_x, c_sa_y)], 1)],
    rects=[(9.6, 14.6, 11.7, 96, "#33dd55", [3, 2], 1.2), (18.9, 21.8, 11.7, 72.7, "#33dd55", [3, 2], 1.2)],
    texts=[([(12.1, 102.5, "Δ(003)"), (20.4, 77.5, "Δ(006)")], dict(fontSize=5, fontWeight="normal", color=LBLUE)),
           ([(12.0, 117.7, "Δ LDHs")], dict(fontSize=7.5, color=LBLUE))],
)))

# (d)
panels.append(build(dict(
    letter="(d)", xdom=[4000, 420], ytop=121, xticks=[4000, 3500, 3000, 2500, 2000, 1500, 1000, 500],
    xtitle="Wavenumber/ cm⁻¹", ytitle="Transmittance/%",
    names=["Li-Al-Ala LDHs", "Li-Al-Ala LDHs/SA"], colors=["#f24040", XBLUE],
    legend=(86, -1, 6.5, 8.2, 160),
    lines=[("Li-Al-Ala LDHs", [(d_ldh_x, d_ldh_y)], 1),
           ("Li-Al-Ala LDHs/SA", [(d_sa_x, d_sa_y)], 1)],
    rects=[(3189, 2570, 50, 106.7, "#e030e0", [2, 2], 1.2)],
    rules=[([(3748, 53.3, 3748, 101.7), (2337, 60, 2337, 105), (524, 10, 524, 85)], BLK, [4, 3], 0.9),
           ([(3425, 66.5, 3425, 56.5), (2978, 95.5, 2978, 90), (2908, 96.5, 2908, 81.5), (1535, 91, 1535, 87),
             (1550, 63.5, 1550, 51), (1365, 58.5, 1365, 45), (987, 50.5, 987, 40), (671, 31.5, 671, 22.5),
             (524, 94.5, 524, 83)], BLK, None, 0.7)],
    texts=[([(3748, 49, "3748"), (3425, 53.5, "3425"), (3060, 87.5, "2978"), (2850, 78.5, "2908"),
             (2337, 56.5, "2337"), (1600, 83.5, "1535"), (1370, 87.5, "1389"), (1057, 83.5, "1057"),
             (545, 97.5, "524"), (1550, 47.5, "1550"), (1365, 41.5, "1365"), (987, 36.5, "987"),
             (671, 19, "671")], dict(fontSize=4.8, fontWeight="normal"))],
)))

# (e)
panels.append(build(dict(
    letter="(e)", xdom=[-200, 1500], ytop=123, xticks=[-200, 0, 200, 400, 600, 800, 1000, 1200, 1400],
    xtitle="Binding Energy (eV)", ytitle="Intensity(a.u.)",
    names=["Li-Al-Ala LDHs", "Li-Al-Ala LDHs/SA"], colors=[BLK, "#f02020"],
    legend=(80, 11, 6.5, 8.2, 160),
    lines=[("Li-Al-Ala LDHs", [(e_ldh_x, e_ldh_y)], 1),
           ("Li-Al-Ala LDHs/SA", [(e_sa_x, e_sa_y)], 1)],
    rects=[(354, 436, 10, 40.3, "#3344ee", None, 1.1)],
    texts=[([(510, 114.5, "O1s"), (280, 81.7, "C1s"), (384, 51.7, "N1s"), (990, 59.3, "O KLL"),
             (103, 42.7, "Al2p Al2s"), (-25, 37, "Li1s")], dict(fontSize=5.5, color=LBLUE))],
)))

# (f)
panels.append(build(dict(
    letter="(f)", tag="Al2p", xdom=[66.7, 85], ytop=122, xticks=[70, 75, 80, 85], xtitle=BE_T,
    ytitle="intensity(a.u.)",
    names=["Raw data", "Al-OH", "Background"], colors=[BLK, RED, BGBLUE],
    legend=(82, 11, 8.5, 12.6, 230),
    lines=[("Background", [(f_bg_x, f_bg_up_y), (f_bg_x, f_bg_lo_y)], 1.2),
           ("Raw data", [(f_raw_up_x, f_raw_up_y), (f_raw_lo_x, f_raw_lo_y)], 1),
           ("Al-OH", [(f_fit_up_x, f_fit_up_y), (f_fit_lo_x, f_fit_lo_y)], 1.2)],
    rules=[([(70.4, 106.7, 74.2, 106.7), (70.4, 49.5, 74.1, 49.5)], BLK, None, 0.7)],
    heads=[([(70.4, 106.7), (70.4, 49.5)], "triangle-left", BLK)],
    texts=[([(69.0, 106.7, "74.5 eV"), (69.0, 49.5, "74.4 eV")], dict(fontSize=5, fontWeight="normal", fontStyle="italic")),
           ([(84.8, 61.5, "Li-Al-Ala LDHs/SA"), (84.8, 5.5, "Li-Al-Ala LDHs")], dict(fontSize=5.5, align="right"))],
)))

# (g)
panels.append(build(dict(
    letter="(g)", tag="Li1s", xdom=[52, 62], ytop=124, xticks=[52, 54, 56, 58, 60, 62], xtitle=BE_T,
    ytitle="Intensity(a.u.)",
    names=["Raw data", "Li-OH", "Background"], colors=[BLK, RED, BGBLUE],
    legend=(87, 17.5, 6.5, 8.4, 170),
    lines=[("Raw data", [(g_raw_x, g_raw_up_y), (g_raw_x, g_raw_lo_y)], 0.9),
           ("Li-OH", [(g_fit_up_x, g_fit_up_y), (g_fit_lo_x, g_fit_lo_y)], 1.2),
           ("Background", [(g_bg_x, g_bg_up_y), (g_bg_x, g_bg_lo_y)], 1.2)],
    rules=[([(54.75, 95.5, 55.25, 88.5), (54.85, 54.5, 55.3, 46)], "#555555", None, 0.6)],
    texts=[([(54.3, 97.7, "55.2 eV"), (54.4, 56.7, "55.3 eV")], dict(fontSize=5, fontWeight="normal", fontStyle="italic")),
           ([(61.9, 71, "Li-Al-Ala LDHs/SA"), (61.9, 24.5, "Li-Al-Ala LDHs")], dict(fontSize=5.5, align="right"))],
)))

# (h)
panels.append(build(dict(
    letter="(h)", tag="O1s", xdom=[527.2, 538], ytop=125, xticks=[528, 530, 532, 534, 536, 538], xtitle=BE_T,
    ytitle="intensity(a.u.)",
    names=["Raw data", "OH⁻/ OH", "Background"], colors=[BLK, RED, BGBLUE],
    legend=(81, 7.5, 6.5, 8.4, 170),
    lines=[("Background", [(h_bg_x, h_bg_up_y), (h_bg_x, h_bg_lo_y)], 1.2),
           ("Raw data", [(h_raw_up_x, h_raw_up_y), (h_raw_lo_x, h_raw_lo_y)], 1),
           ("OH⁻/ OH", [(h_fit_up_x, h_fit_up_y), (h_fit_lo_x, h_fit_lo_y)], 1.2)],
    rules=[([(530.7, 104.3, 531.55, 104.3), (530.9, 62.7, 531.45, 62.7)], BLK, None, 0.7)],
    heads=[([(530.7, 104.3), (530.9, 62.7)], "triangle-left", BLK)],
    texts=[([(529.9, 104.3, "531.8 eV"), (530.1, 62.7, "531.7 eV")], dict(fontSize=5, fontWeight="normal", fontStyle="italic")),
           ([(537.6, 73, "Li-Al-Ala LDHs/SA"), (537.6, 25, "Li-Al-Ala LDHs")], dict(fontSize=5.5, align="right"))],
)))

# (i)
panels.append(build(dict(
    letter="(i)", tag="N1s", xdom=[394, 410], ytop=126, xticks=[394, 396, 398, 400, 402, 404, 406, 408, 410],
    xtitle=BE_T, ytitle="intensity(a.u.)",
    names=["Raw data", "Fitting Peak Sum", "C-N", "NO₃⁻", "Background"], colors=[BLK, RED, "#2a2ad0", GREEN, MAG],
    legend=(66, 3, 6, 8.0, 170),
    lines=[("Raw data", [(i_raw_x, i_raw_up_y), (i_raw_x, i_raw_lo_y)], 0.9),
           ("Background", [(i_bg_x, i_bg_up_y), (i_bg_x, i_bg_lo_y)], 2),
           ("Fitting Peak Sum", [(i_sum_up_x, i_sum_up_y), (i_sum_lo_x, i_sum_lo_y)], 1.2),
           ("C-N", [(i_cn_up_x, i_cn_up_y), (i_cn_lo_x, i_cn_lo_y)], 1.2),
           ("NO₃⁻", [(i_no3_x, i_no3_up_y), (i_no3_lo_x, i_no3_lo_y)], 1.2)],
    rects=[(405.6, 410, 5, 71, "#e030e0", [2, 2], 1.2)],
    rules=[([(398.95, 86.5, 399.85, 80), (398.75, 61, 399.55, 61)], BLK, None, 0.6)],
    heads=[([(398.75, 61)], "triangle-left", BLK)],
    texts=[([(398.4, 88.5, "399.9 eV"), (397.6, 61, "399.8 eV"), (408.1, 74, "407.7 eV"), (408.1, 29.5, "407.4 eV")],
            dict(fontSize=5, fontWeight="normal", fontStyle="italic")),
           ([(394.2, 66.5, "Li-Al-Ala LDHs/SA"), (394.2, 20.5, "Li-Al-Ala LDHs")], dict(fontSize=4.3, align="left"))],
)))

# (j)
panels.append(build(dict(
    letter="(j)", tag="N1s", xdom=[404, 410.55], ytop=126, xticks=[404, 406, 408, 410], xtitle=BE_T,
    ytitle="Intensity(a.u.)",
    names=["Raw data", "Fitting Peak Sum", "NO₃⁻", "Background"], colors=[BLK, RED, GREEN, MAG],
    legend=(27, 0.5, 6.5, 8.8, 200),
    lines=[("Raw data", [(j_raw_x, j_raw_up_y), (j_raw_x, j_raw_lo_y)], 0.9),
           ("Background", [(j_bg_x, j_bg_up_y), (j_bg_x, j_bg_lo_y)], 2),
           ("Fitting Peak Sum", [(j_up_x, j_sum_up_y), (j_lo_x, j_sum_lo_y)], 1.2),
           ("NO₃⁻", [(j_up_x, j_no3_up_y), (j_lo_x, j_no3_lo_y)], 1.2)],
    rules=[([(408.45, 91, 407.85, 77)], BLK, None, 0.6)],
    texts=[([(408.7, 93.3, "407.6 eV"), (407.5, 42.5, "407.4 eV")], dict(fontSize=5, fontWeight="normal", fontStyle="italic")),
           ([(404.1, 83, "Li-Al-Ala LDHs/SA"), (404.1, 38, "Li-Al-Ala LDHs")], dict(fontSize=5, align="left"))],
)))

# (k)
panels.append(build(dict(
    letter="(k)", tag="C1s", xdom=[281.3, 294], ytop=125, xticks=[282, 284, 286, 288, 290, 292, 294], xtitle=BE_T,
    ytitle="Intensity(a.u.)",
    names=XPS_NAMES, colors=XPS_COLS,
    legend=(91, 8.5, 6, 7.6, 150),
    lines=[("Raw data", [(k_raw_x, k_raw_up_y), (k_raw_x, k_raw_lo_y)], 0.9),
           ("Background", [(k_bg_x, k_bg_up_y), (k_bg_x, k_bg_lo_y)], 1.5),
           ("fitting peak sum", [(k_sum_up_x, k_sum_up_y), (k_sum_lo_x, k_sum_lo_y)], 1.2),
           ("C-C/C-H", [(k_cc_x, k_cc_up_y), (k_cc_x, k_cc_lo_y)], 1.2),
           ("O-C=O", [(k_oco_up_x, k_oco_up_y), (k_oco_lo_x, k_oco_lo_y)], 1.1),
           ("CO₃²⁻", [(k_co3_up_x, k_co3_up_y), (k_co3_lo_x, k_co3_lo_y)], 1.1)],
    rects=[(287.55, 291.1, 0.5, 57.7, "#e030e0", [2, 2], 1.2)],
    rules=[([(285.75, 105.5, 285.05, 110.5), (285.2, 59.3, 286.05, 59.3)], BLK, None, 0.6)],
    heads=[([(286.05, 59.3)], "triangle-right", BLK)],
    texts=[([(286.6, 103.7, "284.8 eV"), (287.15, 59.3, "284.8 eV")], dict(fontSize=5, fontWeight="normal", fontStyle="italic")),
           ([(293.9, 57.5, "Li-Al-Ala LDHs/SA"), (293.9, 11.5, "Li-Al-Ala LDHs")], dict(fontSize=4.8, align="right"))],
)))

# (l)
panels.append(build(dict(
    letter="(l)", tag="C1s", xdom=[287, 293.25], ytop=126, xticks=[288, 290, 292], xtitle=BE_T,
    ytitle="intensity(a.u.)",
    names=XPS_NAMES, colors=XPS_COLS,
    legend=(87, 7.5, 5.8, 7.0, 140),
    lines=[("Background", [(l_bg_x, l_bg_up_y), (l_bg_x, l_bg_lo_y)], 1.3),
           ("C-C/C-H", [(l_cc_up_x, l_cc_up_y), (l_cc_lo_x, l_cc_lo_y)], 1.1),
           ("O-C=O", [(l_oco_up_x, l_oco_up_y), (l_oco_lo_x, l_oco_lo_y)], 1.1),
           ("CO₃²⁻", [(l_co3_up_x, l_co3_up_y), (l_co3_lo_x, l_co3_lo_y)], 1.1),
           ("Raw data", [(l_raw_x, l_raw_up_y), (l_raw_x, l_raw_lo_y)], 0.9),
           ("fitting peak sum", [(l_sum_up_x, l_sum_up_y), (l_sum_lo_x, l_sum_lo_y)], 1.3)],
    rules=[([(288.3, 87.3, 288.3, 84.3), (289.35, 85.8, 289.2, 70), (288.4, 47.8, 288.7, 42.5),
             (290.15, 30.3, 289.65, 15)], BLK, None, 0.6)],
    texts=[([(288.3, 89.5, "288.3 eV"), (289.45, 88, "289.2 eV"), (288.1, 50, "288.7 eV"), (290.45, 32.5, "289.6 eV")],
            dict(fontSize=5, fontWeight="normal", fontStyle="italic")),
           ([(293.1, 69.5, "Li-Al-Ala LDHs/SA"), (293.1, 15.5, "Li-Al-Ala LDHs")], dict(fontSize=5, align="right"))],
)))

chart = (alt.concat(*panels, columns=4, spacing=alt.RowColnumber(row=17, column=14), bounds="flush")
         .resolve_scale(color="independent")
         .properties(padding={"left": 0, "top": 0, "right": 0, "bottom": 0})
         .configure_view(stroke="#111111", strokeWidth=1)
         .configure_axis(labelFont=FONT, labelFontSize=6.5, labelColor="#222222", titleFont=FONT,
                         titleFontSize=8, titleFontWeight="bold", titleColor="#111111", tickSize=2,
                         tickColor="#111111", domainColor="#111111", labelPadding=0.5, titlePadding=0.5,
                         grid=False)
         .configure_legend(labelFont=FONT, labelFontWeight="bold", labelColor="#111111"))

chart.save("out.html", embed_options={"renderer": "svg", "actions": False})
